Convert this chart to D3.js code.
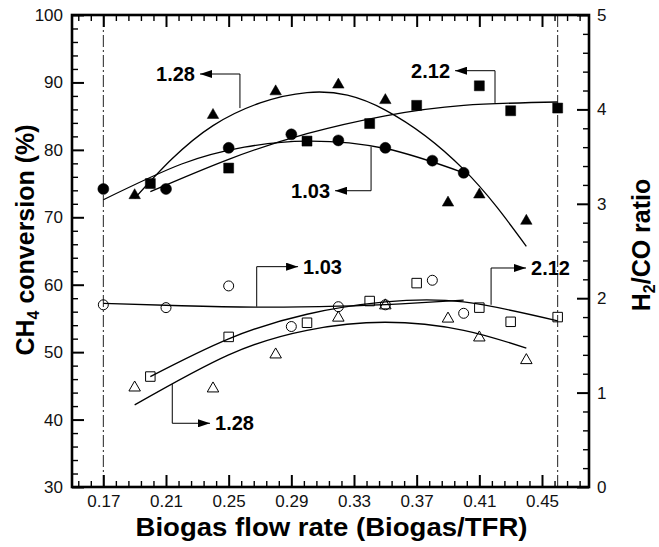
<!DOCTYPE html>
<html><head><meta charset="utf-8">
<script src="https://cdn.jsdelivr.net/npm/d3@7"></script>
<style>body{margin:0;background:#fff}svg{display:block}</style>
</head><body>
<svg id="c" width="659" height="547"></svg>
<script>
// ---------- data ----------
const xTicks = [0.17, 0.21, 0.25, 0.29, 0.33, 0.37, 0.41, 0.45];
const xTickLabels = ["0.17", "0.21", "0.25", "0.29", "0.33", "0.37", "0.41", "0.45"];
const yLeftTicks = [30, 40, 50, 60, 70, 80, 90, 100];
const yRightTicks = [0, 1, 2, 3, 4, 5];
const refLines = [0.17, 0.46];

// CH4 conversion (%) - filled symbols, left axis
const conv103 = [[0.17,74.2],[0.21,74.2],[0.25,80.3],[0.29,82.3],[0.32,81.4],[0.35,80.3],[0.38,78.4],[0.40,76.6]];
const conv128 = [[0.19,73.5],[0.24,85.4],[0.28,88.9],[0.32,89.9],[0.35,87.6],[0.39,72.4],[0.41,73.6],[0.44,69.7]];
const conv212 = [[0.20,75.0],[0.25,77.3],[0.30,81.3],[0.34,83.9],[0.37,86.6],[0.41,89.5],[0.43,85.8],[0.46,86.2]];

// H2/CO ratio - open symbols, right axis
const ratio103 = [[0.17,1.93],[0.21,1.90],[0.25,2.13],[0.29,1.70],[0.32,1.91],[0.35,1.93],[0.38,2.19],[0.40,1.84]];
const ratio128 = [[0.19,1.07],[0.24,1.06],[0.28,1.42],[0.32,1.81],[0.35,1.94],[0.39,1.80],[0.41,1.60],[0.44,1.36]];
const ratio212 = [[0.20,1.17],[0.25,1.59],[0.30,1.74],[0.34,1.97],[0.37,2.16],[0.41,1.90],[0.43,1.75],[0.46,1.80]];

// fitted trend curves
const fitConv128 = [[0.19,72.8],[0.24,83.6],[0.30,88.5],[0.35,85.9],[0.40,77.1],[0.44,65.7]];
const fitConv103 = [[0.17,72.6],[0.22,77.9],[0.26,80.4],[0.30,81.3],[0.35,80.2],[0.40,76.6]];
const fitConv212 = [[0.20,73.8],[0.25,78.6],[0.30,82.4],[0.35,85.05],[0.40,86.6],[0.46,87.1]];
const fitRatio103 = [[0.17,1.946],[0.22,1.92],[0.27,1.905],[0.32,1.915],[0.36,1.94],[0.40,1.98]];
const fitRatio212 = [[0.20,1.17],[0.25,1.57],[0.30,1.83],[0.35,1.96],[0.40,1.96],[0.46,1.76]];
const fitRatio128 = [[0.19,0.87],[0.25,1.40],[0.30,1.66],[0.35,1.745],[0.40,1.66],[0.44,1.47]];

// annotation leaders (data coordinates)
const annLabels = ["1.28", "2.12", "1.03", "1.03", "2.12", "1.28"];
const annAxis = ["L", "L", "L", "R", "R", "R"];
const annPaths = [
  [[0.2572,86.2],[0.2572,91.25],[0.2317,91.25]],
  [[0.42,86.96],[0.42,91.74],[0.3945,91.74]],
  [[0.3409,80.47],[0.3409,73.94],[0.3179,73.94]],
  [[0.2679,1.91],[0.2679,2.334],[0.2943,2.334]],
  [[0.4175,1.93],[0.4175,2.32],[0.4398,2.32]],
  [[0.214,1.09],[0.214,0.675],[0.2381,0.675]]
];

// ---------- chart ----------
const FONT = "'Liberation Sans', Arial, Helvetica, sans-serif";
const svg = d3.select("#c");
const L = 72, R = 589, T = 15, B = 487;
const x = d3.scaleLinear().domain([0.15, 0.48]).range([L, R]);
const yL = d3.scaleLinear().domain([30, 100]).range([B, T]);
const yR = d3.scaleLinear().domain([0, 5]).range([B, T]);

const defs = svg.append("defs");
defs.append("marker").attr("id","arr").attr("viewBox","0 0 12 8")
  .attr("refX",12).attr("refY",4).attr("markerWidth",12).attr("markerHeight",8)
  .attr("markerUnits","userSpaceOnUse").attr("orient","auto")
  .append("path").attr("d","M0,0L12,4L0,8Z").attr("fill","#000");

// reference dash-dot lines
svg.selectAll("line.ref").data(refLines).join("line")
  .attr("x1", d => x(d)).attr("x2", d => x(d)).attr("y1", T).attr("y2", B)
  .attr("stroke", "#222").attr("stroke-width", 1).attr("stroke-dasharray", "12,3,2,3");

// axes
const xMinor = d3.range(0.154, 0.4801, 0.008).filter(v => !xTicks.some(t => Math.abs(t - v) < 1e-6));
const yLMinor = d3.range(30, 100.001, 2).filter(v => v % 10 !== 0);
const yRMinor = d3.range(0, 5.001, 0.2).filter(v => Math.abs(v - Math.round(v)) > 1e-6);

function styleAxis(g, major) {
  g.select(".domain").remove();
  g.selectAll("line").attr("stroke", "#000").attr("stroke-width", major ? 2 : 1.4);
  g.selectAll("text").attr("font-family", FONT).attr("font-size", 17).attr("fill", "#111");
}
// bottom
svg.append("g").attr("transform", `translate(0,${B})`)
  .call(d3.axisBottom(x).tickValues(xTicks).tickFormat((d,i) => xTickLabels[i]).tickSize(-12).tickSizeOuter(0).tickPadding(8))
  .call(g => styleAxis(g, true));
svg.append("g").attr("transform", `translate(0,${B})`)
  .call(d3.axisBottom(x).tickValues(xMinor).tickFormat("").tickSize(-6).tickSizeOuter(0))
  .call(g => styleAxis(g, false));
// top
svg.append("g").attr("transform", `translate(0,${T})`)
  .call(d3.axisTop(x).tickValues(xTicks).tickFormat("").tickSize(-12).tickSizeOuter(0))
  .call(g => styleAxis(g, true));
svg.append("g").attr("transform", `translate(0,${T})`)
  .call(d3.axisTop(x).tickValues(xMinor).tickFormat("").tickSize(-6).tickSizeOuter(0))
  .call(g => styleAxis(g, false));
// left
svg.append("g").attr("transform", `translate(${L},0)`)
  .call(d3.axisLeft(yL).tickValues(yLeftTicks).tickFormat(d3.format("d")).tickSize(-12).tickSizeOuter(0).tickPadding(9))
  .call(g => styleAxis(g, true));
svg.append("g").attr("transform", `translate(${L},0)`)
  .call(d3.axisLeft(yL).tickValues(yLMinor).tickFormat("").tickSize(-6).tickSizeOuter(0))
  .call(g => styleAxis(g, false));
// right
svg.append("g").attr("transform", `translate(${R},0)`)
  .call(d3.axisRight(yR).tickValues(yRightTicks).tickFormat(d3.format("d")).tickSize(-12).tickSizeOuter(0).tickPadding(8))
  .call(g => styleAxis(g, true));
svg.append("g").attr("transform", `translate(${R},0)`)
  .call(d3.axisRight(yR).tickValues(yRMinor).tickFormat("").tickSize(-6).tickSizeOuter(0))
  .call(g => styleAxis(g, false));

// frame
svg.append("rect").attr("x", L).attr("y", T).attr("width", R - L).attr("height", B - T)
  .attr("fill", "none").attr("stroke", "#000").attr("stroke-width", 2.6);

// curves
const lineL = d3.line().x(d => x(d[0])).y(d => yL(d[1])).curve(d3.curveNatural);
const lineR = d3.line().x(d => x(d[0])).y(d => yR(d[1])).curve(d3.curveNatural);
[fitConv128, fitConv103, fitConv212].forEach(c => svg.append("path").attr("d", lineL(c))
  .attr("fill","none").attr("stroke","#000").attr("stroke-width",1.3));
[fitRatio103, fitRatio212, fitRatio128].forEach(c => svg.append("path").attr("d", lineR(c))
  .attr("fill","none").attr("stroke","#000").attr("stroke-width",1.3));

// symbols
const triPath = (w, h) => `M0,${-h/2}L${w/2},${h/2}L${-w/2},${h/2}Z`;
const circPath = r => `M${r},0A${r},${r} 0 1,1 ${-r},0A${r},${r} 0 1,1 ${r},0Z`;
const sqPath = s => `M${-s/2},${-s/2}h${s}v${s}h${-s}Z`;

function drawPts(data, ys, shape, filled) {
  svg.append("g").selectAll("path").data(data).join("path")
    .attr("transform", d => `translate(${x(d[0])},${ys(d[1])})`)
    .attr("d", shape)
    .attr("fill", filled ? "#000" : "none")
    .attr("stroke", "#000").attr("stroke-width", filled ? 0.5 : 1);
}
drawPts(conv128, yL, triPath(11.5, 10), true);
drawPts(conv103, yL, circPath(5.5), true);
drawPts(conv212, yL, sqPath(10), true);
drawPts(ratio103, yR, circPath(5), false);
drawPts(ratio212, yR, sqPath(9.5), false);
drawPts(ratio128, yR, triPath(11.5, 10), false);

// annotations
annPaths.forEach((p, i) => {
  const ys = annAxis[i] === "L" ? yL : yR;
  const ln = d3.line().x(d => x(d[0])).y(d => ys(d[1]));
  svg.append("path").attr("d", ln(p)).attr("fill","none").attr("stroke","#000")
    .attr("stroke-width",1).attr("marker-end","url(#arr)");
  const a = p[p.length-1], b = p[p.length-2];
  const dir = Math.sign(a[0] - b[0]);
  svg.append("text").attr("x", x(a[0]) + dir * 5).attr("y", ys(a[1])).attr("dy", "0.36em")
    .attr("text-anchor", dir < 0 ? "end" : "start")
    .attr("font-family", FONT).attr("font-weight", "bold").attr("font-size", 20).attr("fill","#000")
    .text(annLabels[i]);
});

// axis titles
svg.append("text").attr("x", (L + R) / 2 + 1).attr("y", 536).attr("text-anchor","middle")
  .attr("font-family", FONT).attr("font-weight","bold").attr("font-size", 26)
  .attr("textLength", 392).attr("lengthAdjust","spacingAndGlyphs")
  .text("Biogas flow rate (Biogas/TFR)");

const lt = svg.append("text").attr("transform","translate(34,240) rotate(-90)").attr("text-anchor","middle")
  .attr("font-family", FONT).attr("font-weight","bold").attr("font-size", 25);
lt.append("tspan").text("CH");
lt.append("tspan").attr("font-size", 16).attr("dy", 5).text("4");
lt.append("tspan").attr("dy", -5).text(" conversion (%)");

const rt = svg.append("text").attr("transform","translate(650,245) rotate(-90)").attr("text-anchor","middle")
  .attr("font-family", FONT).attr("font-weight","bold").attr("font-size", 25);
rt.append("tspan").text("H");
rt.append("tspan").attr("font-size", 16).attr("dy", 5).text("2");
rt.append("tspan").attr("dy", -5).text("/CO ratio");
</script>
</body></html>
